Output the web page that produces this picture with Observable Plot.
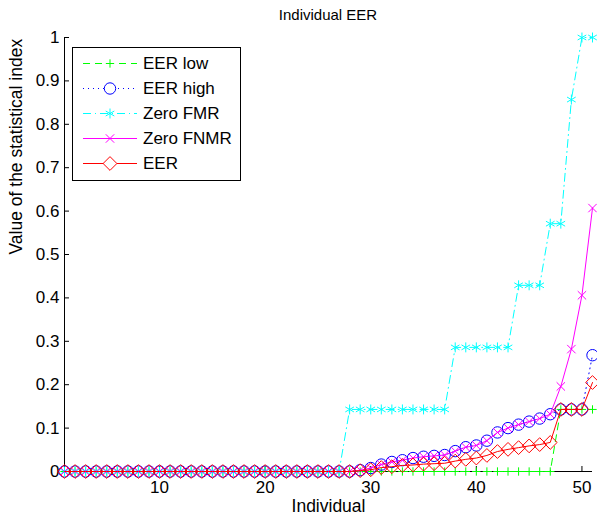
<!DOCTYPE html>
<html><head><meta charset="utf-8">
<script src="https://cdn.jsdelivr.net/npm/d3@7"></script>
<script src="https://cdn.jsdelivr.net/npm/@observablehq/plot@0.6"></script>
<style>html,body{margin:0;padding:0;background:#fff;} svg{display:block}</style>
</head><body><div id="chart"></div>
<script>
const individuals = [1,2,3,4,5,6,7,8,9,10,11,12,13,14,15,16,17,18,19,20,21,22,23,24,25,26,27,28,29,30,31,32,33,34,35,36,37,38,39,40,41,42,43,44,45,46,47,48,49,50,51];

const eerLow = [0,0,0,0,0,0,0,0,0,0, 0,0,0,0,0,0,0,0,0,0, 0,0,0,0,0,0,0,0,0,0,
  0,0,0,0,0,0,0,0,0,0, 0,0,0,0,0,0,0,0.143,0.143,0.143, 0.143];
const eerHigh = [0,0,0,0,0,0,0,0,0,0, 0,0,0,0,0,0,0,0,0,0, 0,0,0,0,0,0,0,0,0.003,0.008,
  0.016,0.022,0.026,0.031,0.034,0.036,0.038,0.047,0.056,0.060,
  0.071,0.090,0.100,0.108,0.115,0.122,0.132,0.143,0.143,0.143, 0.268];
const zeroFMR = [0,0,0,0,0,0,0,0,0,0, 0,0,0,0,0,0,0,0,0,0, 0,0,0,0,0,0,0,0.143,0.143,0.143,
  0.143,0.143,0.143,0.143,0.143,0.143,0.143,0.286,0.286,0.286,
  0.286,0.286,0.286,0.429,0.429,0.429,0.571,0.571,0.857,1, 1];
const zeroFNMR = [0,0,0,0,0,0,0,0,0,0, 0,0,0,0,0,0,0,0,0,0, 0,0,0,0,0,0,0,0,0.003,0.008,
  0.016,0.022,0.026,0.031,0.034,0.036,0.038,0.047,0.056,0.060,
  0.071,0.090,0.100,0.108,0.115,0.122,0.132,0.196,0.282,0.406, 0.607];
const eer = [0,0,0,0,0,0,0,0,0,0, 0,0,0,0,0,0,0,0,0,0, 0,0,0,0,0,0,0,0,0.002,0.004,
  0.009,0.011,0.014,0.015,0.017,0.018,0.019,0.024,0.028,0.031,
  0.037,0.046,0.051,0.055,0.059,0.062,0.067,0.143,0.143,0.143, 0.205];

const seriesNames = ["EER low", "EER high", "Zero FMR", "Zero FNMR", "EER"];
const seriesValues = [eerLow, eerHigh, zeroFMR, zeroFNMR, eer];
const seriesColors = ["#00ff00", "#0000ff", "#00ffff", "#ff00ff", "#ff0000"];
const seriesDash = ["7,5", "1,4", "8,4,1,4", null, null];
const seriesSymbols = ["plus", "circle", "asterisk", "times", "diamond2"];
const seriesR = [2.8, 5.7, 4.7, 3.9, 6.2];

const xTicks = [10, 20, 30, 40, 50];
const yTicks = [0, 0.1, 0.2, 0.3, 0.4, 0.5, 0.6, 0.7, 0.8, 0.9, 1];

const titleText = "Individual EER";
const xLabel = "Individual";
const yLabel = "Value of the statistical index";

const FONT = "'Liberation Sans', Arial, Helvetica, sans-serif";

const marks = [
  Plot.ruleX([1], {stroke: "#000", strokeWidth: 1}),
  Plot.ruleY([0], {stroke: "#000", strokeWidth: 1}),
  Plot.axisY({ticks: yTicks, tickSize: -5, tickPadding: 10, tickFormat: d => String(+d.toFixed(1)), label: null, fontSize: 17}),
  Plot.axisX({ticks: xTicks, tickSize: -5, tickPadding: 14, label: null, fontSize: 17}),
];

seriesNames.forEach((name, k) => {
  const data = seriesValues[k].map((v, i) => ({x: individuals[i], y: v}));
  marks.push(Plot.line(data, {x: "x", y: "y", stroke: seriesColors[k], strokeWidth: 1, strokeDasharray: seriesDash[k]}));
  marks.push(Plot.dot(data, {x: "x", y: "y", symbol: seriesSymbols[k], r: seriesR[k], stroke: seriesColors[k], fill: "none", strokeWidth: 1}));
});

marks.push(Plot.text([xLabel], {frameAnchor: "bottom", text: d => d, dy: 35, lineAnchor: "middle", fontSize: 17.5}));
marks.push(Plot.text([yLabel], {frameAnchor: "left", text: d => d, dx: -48, rotate: -90, lineAnchor: "middle", fontSize: 17.5}));

const chart = Plot.plot({
  width: 597, height: 516,
  marginLeft: 64, marginRight: 5, marginTop: 37, marginBottom: 45,
  x: {domain: [1, 51]},
  y: {domain: [0, 1]},
  style: {fontFamily: FONT, fontSize: "16px", background: "#fff", color: "#000", overflow: "visible"},
  marks
});
document.getElementById("chart").appendChild(chart);

const svg = d3.select(chart);
// title
svg.append("text").attr("x", 328).attr("y", 15).attr("dy", "0.35em")
  .attr("text-anchor", "middle").style("font-family", FONT).style("font-size", "15px")
  .attr("fill", "#000").text(titleText);

// legend box inside the axes (upper left)
const lg = svg.append("g").style("font-family", FONT).style("font-size", "17px").attr("text-anchor", "start");
lg.append("rect").attr("x", 72.5).attr("y", 47.5).attr("width", 168).attr("height", 133)
  .attr("fill", "#fff").attr("stroke", "#000").attr("stroke-width", 1);
const symbolMap = {plus: d3.symbolPlus, circle: d3.symbolCircle, asterisk: d3.symbolAsterisk, times: d3.symbolTimes, diamond2: d3.symbolDiamond2};
seriesNames.forEach((name, k) => {
  const cy = 63.5 + k * 25;
  lg.append("line").attr("x1", 83).attr("x2", 137).attr("y1", cy).attr("y2", cy)
    .attr("stroke", seriesColors[k]).attr("stroke-width", 1)
    .attr("stroke-dasharray", seriesDash[k]);
  lg.append("path").attr("d", d3.symbol(symbolMap[seriesSymbols[k]], Math.PI * seriesR[k] * seriesR[k])())
    .attr("transform", `translate(110,${cy})`).attr("fill", "#fff").attr("stroke", seriesColors[k]).attr("stroke-width", 1);
  lg.append("text").attr("x", 143).attr("y", cy).attr("dy", "0.35em").attr("text-anchor", "start").attr("fill", "#000").text(name);
});
</script>
</body></html>
